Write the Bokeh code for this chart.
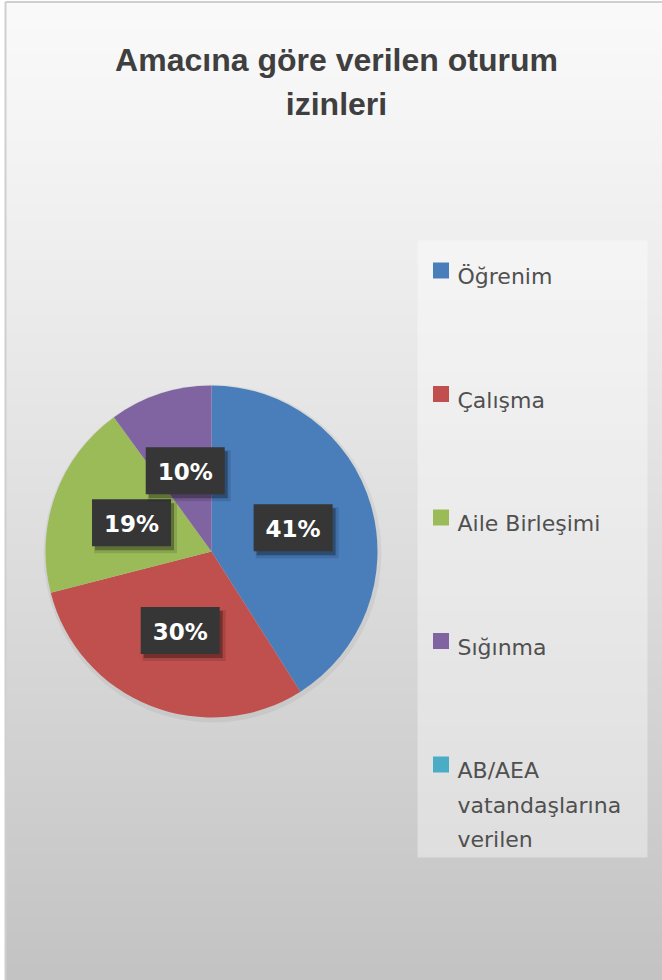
import math
import textwrap
import numpy as np
from bokeh.plotting import figure
from bokeh.models import Range1d
from bokeh.core.properties import value
from bokeh.embed import file_html
from bokeh.resources import INLINE

# ---- data ----
title_lines = ["Amacına göre verilen oturum", "izinleri"]
categories = ["Öğrenim", "Çalışma", "Aile Birleşimi", "Sığınma", "AB/AEA vatandaşlarına verilen"]
shares = [41, 30, 19, 10, 0]
colors = ["#4a7ebb", "#c0504d", "#9bbb59", "#8064a2", "#4bacc6"]

W, H = 662, 980
def Y(ypix):
    return H - ypix

p = figure(width=W, height=H, output_backend="svg", toolbar_location=None,
           x_range=Range1d(0, W), y_range=Range1d(0, H),
           x_axis_type=None, y_axis_type=None, min_border=0)
p.grid.visible = False
p.outline_line_color = None
p.background_fill_color = "white"
p.border_fill_color = "white"

# ---- background gradient ----
rows = np.arange(H)
t = (H - rows) / H
g = (250 - 55 * t ** 1.15).astype(np.uint32)
img = np.zeros((H, 1), dtype=np.uint32)
view = img.view(dtype=np.uint8).reshape((H, 1, 4))
view[:, 0, 0] = g
view[:, 0, 1] = g
view[:, 0, 2] = g
view[:, 0, 3] = 255
p.image_rgba(image=[img], x=5, y=0, dw=W - 5, dh=H)
p.segment(x0=[5, 5], y0=[0, Y(1.5)], x1=[5, W], y1=[Y(1.5), Y(1.5)],
          line_color="#cfcfcf", line_width=2)

# ---- title ----
for i, line in enumerate(title_lines):
    p.text(x=[336], y=[Y(59 + 44 * i)], text=[line], text_align="center",
           text_baseline="alphabetic", text_font=value("Liberation Sans"),
           text_font_style="bold", text_font_size="32px", text_color="#3f3f3f")

# ---- pie ----
cx, cy, R = 211, Y(551), 166
total = float(sum(shares))
cum = np.cumsum([0] + shares) / total
starts = [math.pi / 2 - 2 * math.pi * cum[i + 1] for i in range(len(shares))]
ends = [math.pi / 2 - 2 * math.pi * cum[i] for i in range(len(shares))]
p.circle(x=[cx + 1], y=[cy - 2], radius=R + 3, fill_color="black", fill_alpha=0.05, line_color=None)
for i in range(len(shares)):
    if shares[i] <= 0:
        continue
    p.wedge(x=cx, y=cy, radius=R, start_angle=starts[i], end_angle=ends[i],
            direction="anticlock", fill_color=colors[i], line_color=None)

# ---- data labels ----
rl = 85
bw, bh = 79, 47
for i in range(len(shares)):
    if shares[i] <= 0:
        continue
    m = (cum[i] + cum[i + 1]) / 2
    a = math.pi / 2 - 2 * math.pi * m
    lx, ly = cx + rl * math.cos(a), cy + rl * math.sin(a)
    p.rect(x=[lx + 4], y=[ly - 5], width=bw + 4, height=bh + 4,
           fill_color="black", fill_alpha=0.12, line_color=None)
    p.rect(x=[lx + 3], y=[ly - 4], width=bw, height=bh,
           fill_color="black", fill_alpha=0.3, line_color=None)
    p.rect(x=[lx], y=[ly], width=bw, height=bh, fill_color="#363636", line_color=None)
    p.text(x=[lx], y=[ly - 1], text=[f"{shares[i]}%"], text_align="center",
           text_baseline="middle", text_font=value("DejaVu Sans"),
           text_font_style="bold", text_font_size="23px", text_color="white")

# ---- legend ----
lx0, lx1, ly0, ly1 = 417, 647, 240, 857
p.quad(left=[lx0], right=[lx1], top=[Y(ly0)], bottom=[Y(ly1)],
       fill_color="white", fill_alpha=0.38, line_color=None)
first_base, step, line_h = 276, 123.5, 34.5
for i, name in enumerate(categories):
    base = first_base + step * i
    p.rect(x=[440.5], y=[Y(base - 6)], width=16, height=16,
           fill_color=colors[i], line_color=None)
    for j, ln in enumerate(textwrap.wrap(name, 14)):
        p.text(x=[457], y=[Y(base + line_h * j)], text=[ln], text_align="left",
               text_baseline="alphabetic", text_font=value("DejaVu Sans"),
               text_font_size="22px", text_color="#505050")

open("out.html", "w").write(file_html(p, INLINE))
